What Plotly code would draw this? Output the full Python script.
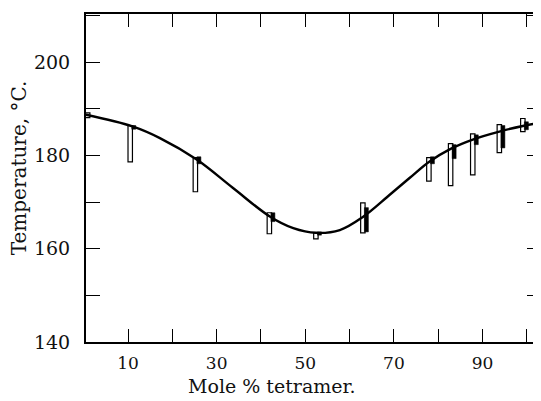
import plotly.graph_objects as go

# Curve (smooth trend line)
curve_x = [0.5, 11.0, 17.2, 25.5, 33.7, 42.0, 47.3, 52.4, 57.8, 63.0, 69.0, 73.6, 77.9, 82.8, 87.8, 93.8, 99.1, 103.2]
curve_y = [188.7, 186.2, 183.7, 179.1, 173.0, 166.9, 164.4, 163.4, 164.0, 166.8, 171.5, 175.2, 178.6, 181.4, 183.4, 185.1, 186.3, 187.0]

# Open bars (ranges)
bar_x = [0.9, 10.5, 25.2, 41.9, 52.4, 63.0, 77.9, 82.8, 87.8, 93.8, 99.1]
open_low = [188.1, 178.6, 172.2, 163.2, 162.1, 163.4, 174.5, 173.5, 175.8, 180.6, 185.1]
open_high = [189.1, 186.4, 179.5, 167.7, 163.4, 169.8, 179.5, 182.5, 184.6, 186.6, 187.9]

# Filled bars (ranges)
fill_x = [10.5, 25.2, 41.9, 52.4, 63.0, 77.9, 82.8, 87.8, 93.8, 99.1]
fill_low = [185.6, 178.2, 165.8, 162.9, 163.6, 178.2, 179.3, 182.3, 181.6, 185.5]
fill_high = [186.4, 179.7, 167.7, 163.6, 168.8, 179.7, 182.3, 184.4, 186.4, 187.2]

x_labels = [10, 30, 50, 70, 90]
y_labels = [140, 160, 180, 200]

FONT = "DejaVu Serif"
INK = "#111"

fig = go.Figure()

fig.add_trace(go.Bar(
    x=bar_x, y=[h - l for l, h in zip(open_low, open_high)], base=open_low,
    width=1.0, marker=dict(color="white", line=dict(color="black", width=1.2)),
    showlegend=False, hoverinfo="skip"))

fig.add_trace(go.Bar(
    x=[v + 0.8 for v in fill_x], y=[h - l for l, h in zip(fill_low, fill_high)], base=fill_low,
    width=0.9, marker=dict(color="black", line=dict(color="black", width=0.5)),
    showlegend=False, hoverinfo="skip"))

fig.add_trace(go.Scatter(
    x=curve_x, y=curve_y, mode="lines",
    line=dict(color="black", width=2.4, shape="spline", smoothing=1.0),
    showlegend=False, hoverinfo="skip"))

fig.update_layout(
    width=533, height=393,
    margin=dict(l=78, r=0, t=6, b=59, autoexpand=False),
    paper_bgcolor="white", plot_bgcolor="white",
    barmode="overlay",
    font=dict(family=FONT, color=INK, size=16),
    xaxis=dict(
        range=[0.52, 103.2], tickmode="array", tickvals=x_labels,
        ticktext=[str(v) for v in x_labels],
        ticks="inside", ticklen=13, tickwidth=1.3, tickcolor="black",
        minor=dict(tickmode="linear", tick0=0, dtick=10, ticks="inside", ticklen=13, tickwidth=1.3, tickcolor="black"),
        showline=True, linecolor="black", linewidth=2, mirror="ticks",
        showgrid=False, zeroline=False, ticklabelstandoff=5, automargin=False,
        tickfont=dict(family=FONT, size=17, color=INK),
    ),
    yaxis=dict(
        range=[140, 210.3], tickmode="array", tickvals=y_labels,
        ticktext=[str(v) for v in y_labels],
        ticks="inside", ticklen=14, tickwidth=1.3, tickcolor="black",
        minor=dict(tickmode="linear", tick0=140, dtick=10, ticks="inside", ticklen=14, tickwidth=1.3, tickcolor="black"),
        showline=True, linecolor="black", linewidth=2, mirror="ticks",
        showgrid=False, zeroline=False, ticklabelstandoff=10, automargin=False,
        tickfont=dict(family=FONT, size=19, color=INK),
    ),
    annotations=[
        dict(text="Mole % tetramer.", xref="paper", yref="paper", x=0.408, y=-0.134,
             xanchor="center", yanchor="middle", showarrow=False,
             font=dict(family=FONT, size=19, color=INK)),
        dict(text="Temperature, °C.", xref="paper", yref="paper", x=-0.147, y=0.53,
             xanchor="center", yanchor="middle", showarrow=False, textangle=-90,
             font=dict(family=FONT, size=20, color=INK)),
    ],
)

fig.write_html("out.html")
